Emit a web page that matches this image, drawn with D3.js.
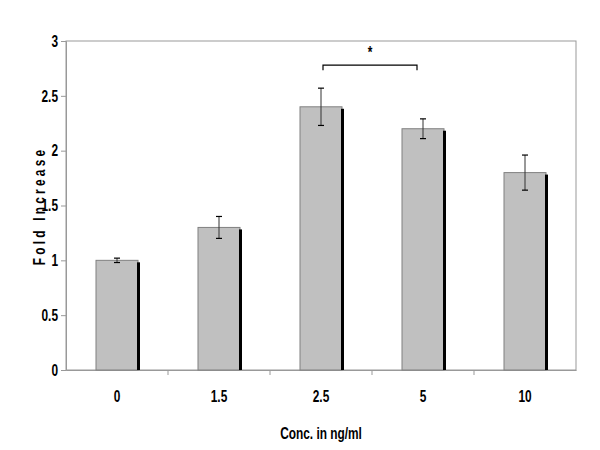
<!DOCTYPE html>
<html><head><meta charset="utf-8">
<script src="https://cdn.jsdelivr.net/npm/d3@7"></script>
<style>
body{margin:0;background:#fff;}
text{font-family:"Liberation Sans",Arial,sans-serif;font-weight:bold;}
</style></head>
<body><svg id="c" width="600" height="450"></svg>
<script>
const categories = ["0","1.5","2.5","5","10"];
const values = [1.0, 1.3, 2.4, 2.2, 1.8];
const errors = [0.02, 0.1, 0.17, 0.09, 0.16];
const yTicks = [0, 0.5, 1, 1.5, 2, 2.5, 3];
const bracket = {from:"2.5", to:"5", level:2.78, label:"*"};

const svg = d3.select("#c");
const L=66, R=576, T=41, B=370;
const x = d3.scaleBand().domain(categories).range([L,R]);
const y = d3.scaleLinear().domain([0,3]).range([B,T]);
const bw = 42;
const SX = 0.72, FS = 16.5;

svg.append("rect").attr("x",L).attr("y",T).attr("width",R-L).attr("height",B-T)
  .attr("fill","none").attr("stroke","#999").attr("stroke-width",1);

const ya = svg.append("g").attr("transform",`translate(${L},0)`)
  .call(d3.axisLeft(y).tickValues(yTicks).tickSize(5).tickFormat(d=>String(d)));
ya.select(".domain").attr("stroke","#999");
ya.selectAll(".tick line").attr("stroke","#999");
ya.selectAll("text").attr("x",0).attr("font-size",FS).attr("fill","#000").style("font-family",null)
  .attr("transform",`translate(-8,0) scale(${SX},1)`);

const xa = svg.append("g").attr("transform",`translate(0,${B})`)
  .call(d3.axisBottom(x).tickSize(0).tickPadding(20));
xa.select(".domain").attr("stroke","#999");
xa.selectAll("text").attr("font-size",FS).attr("fill","#000").style("font-family",null)
  .attr("transform",`scale(${SX},1)`);
const bounds = categories.slice(1).map(c=>x(c));
svg.append("g").selectAll("line").data(bounds).join("line")
  .attr("x1",d=>d).attr("x2",d=>d).attr("y1",B).attr("y2",B+5).attr("stroke","#999");

const bars = svg.append("g");
categories.forEach((c,i)=>{
  const cx = x(c)+x.bandwidth()/2;
  const x0 = cx-bw/2;
  bars.append("rect").attr("x",x0).attr("y",y(values[i])).attr("width",bw).attr("height",B-y(values[i]))
    .attr("fill","#c0c0c0").attr("stroke","#808080").attr("stroke-width",1);
  bars.append("rect").attr("x",x0+bw-1).attr("y",y(values[i])+2).attr("width",3).attr("height",B-y(values[i])-2)
    .attr("fill","#000");
  const eh = y(values[i]+errors[i]), el = y(values[i]-errors[i]);
  bars.append("line").attr("x1",cx).attr("x2",cx).attr("y1",eh).attr("y2",el).attr("stroke","#333");
  bars.append("line").attr("x1",cx-3).attr("x2",cx+3).attr("y1",eh).attr("y2",eh).attr("stroke","#000").attr("stroke-width",1.2);
  bars.append("line").attr("x1",cx-3).attr("x2",cx+3).attr("y1",el).attr("y2",el).attr("stroke","#000").attr("stroke-width",1.2);
});

const bx1 = x(bracket.from)+x.bandwidth()/2+2, bx2 = x(bracket.to)+x.bandwidth()/2-6;
const by = y(bracket.level);
svg.append("path").attr("d",`M${bx1},${by+5}V${by}H${bx2}V${by+5}`)
  .attr("fill","none").attr("stroke","#000").attr("stroke-width",1.2);
svg.append("text").attr("transform",`translate(${(bx1+bx2)/2},${by-7}) scale(${SX},1)`).attr("text-anchor","middle")
  .attr("font-size",FS).text(bracket.label);

svg.append("text").attr("transform",`translate(${(L+R)/2},439) scale(${SX},1)`).attr("text-anchor","middle")
  .attr("font-size",FS).text("Conc. in ng/ml");
svg.append("text").attr("transform",`translate(45,206) rotate(-90) scale(${SX},1)`).attr("text-anchor","middle")
  .attr("font-size",FS).attr("letter-spacing","4.5px").text("Fold Increase");
</script></body></html>
